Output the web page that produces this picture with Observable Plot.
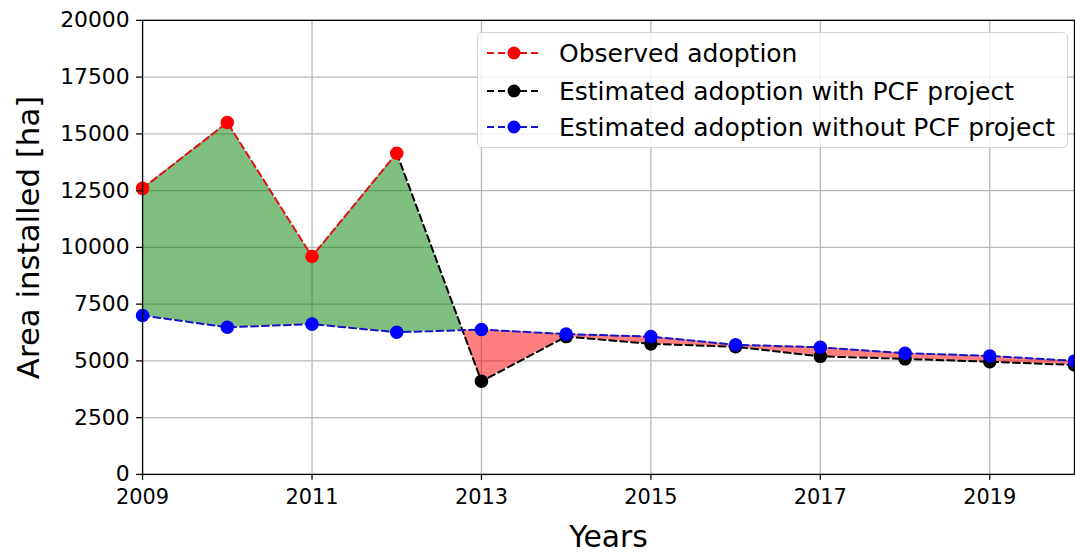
<!DOCTYPE html>
<html>
<head>
<meta charset="utf-8">
<script src="https://cdn.jsdelivr.net/npm/d3@7"></script>
<script src="https://cdn.jsdelivr.net/npm/@observablehq/plot@0.6"></script>
<style>
  html, body { margin: 0; padding: 0; background: #fff; overflow: hidden; }
  #wrap { position: relative; width: 1075px; height: 553px; overflow: hidden; }
  .legend {
    position: absolute; left: 477px; top: 32px; width: 589px; height: 114px;
    border: 1px solid #d4d4d4; border-radius: 5px; background: rgba(255,255,255,0.8);
    font-family: "DejaVu Sans", sans-serif; font-size: 25px; color: #000;
  }
  .legend .row { position: absolute; left: 0; height: 30px; display: flex; align-items: center; white-space: nowrap; }
  .legend .row svg { width: 81px; height: 30px; flex: none; }
</style>
</head>
<body>
<div id="wrap"></div>
<script>
// Years covered by the study
const years = [2009, 2010, 2011, 2012, 2013, 2014, 2015, 2016, 2017, 2018, 2019, 2020];
// Observed adoption (2009–2012), ha
const observedYears = [2009, 2010, 2011, 2012];
const observed = [12600, 15500, 9600, 14150];
// Estimated adoption with the PCF project (from 2012 on), ha
const withYears = [2012, 2013, 2014, 2015, 2016, 2017, 2018, 2019, 2020];
const withProject = [14150, 4100, 6070, 5750, 5620, 5200, 5090, 4960, 4820];
// Estimated adoption without the PCF project, ha
const withoutProject = [7000, 6480, 6620, 6260, 6380, 6180, 6070, 5710, 5600, 5340, 5220, 5000];
// Axis ticks
const xTicks = [2009, 2011, 2013, 2015, 2017, 2019];
const yTicks = [0, 2500, 5000, 7500, 10000, 12500, 15000, 17500, 20000];

const obsRows = observedYears.map((year, i) => ({year, value: observed[i]}));
const withRows = withYears.map((year, i) => ({year, value: withProject[i]}));
const withoutRows = years.map((year, i) => ({year, value: withoutProject[i]}));
// Actual adoption path: observed values, then the "with project" estimate
const actualByYear = new Map([...obsRows, ...withRows].map(d => [d.year, d.value]));
const bandRows = years.map((year, i) => ({year, lo: withoutProject[i], hi: actualByYear.get(year)}));

const dash = "7,4";
const fmt = d => String(d);

const fig = Plot.plot({
  width: 1082,
  height: 553,
  marginLeft: 143,
  marginRight: 1,
  marginTop: 20,
  marginBottom: 76,
  x: {domain: [2009, 2020]},
  y: {domain: [0, 20000]},
  style: {fontFamily: "DejaVu Sans, sans-serif", background: "white", overflow: "visible"},
  marks: [
    Plot.ruleX(xTicks, {stroke: "#b8b8b8", strokeWidth: 1.3}),
    Plot.ruleY(yTicks, {stroke: "#b8b8b8", strokeWidth: 1.3}),
    // gain (above the no-project baseline) and loss (below it)
    Plot.areaY(bandRows, {x: "year", y1: "lo", y2: "hi", fill: "green", fillOpacity: 0.5}),
    Plot.areaY(bandRows, {x: "year", y1: "lo", y2: "hi", fill: "red", fillOpacity: 0.5}),
    Plot.line(withRows, {x: "year", y: "value", stroke: "black", strokeWidth: 2, strokeDasharray: dash}),
    Plot.dot(withRows.slice(1), {x: "year", y: "value", r: 6.8, fill: "black"}),
    Plot.line(obsRows, {x: "year", y: "value", stroke: "#e01010", strokeWidth: 2, strokeDasharray: dash}),
    Plot.dot(obsRows, {x: "year", y: "value", r: 6.8, fill: "red"}),
    Plot.line(withoutRows, {x: "year", y: "value", stroke: "#1515c8", strokeWidth: 2, strokeDasharray: dash}),
    Plot.dot(withoutRows, {x: "year", y: "value", r: 6.8, fill: "blue"}),
    Plot.frame({stroke: "black", strokeWidth: 1.3}),
    Plot.axisX(xTicks, {tickFormat: fmt, tickSize: 6, tickPadding: 9, fontSize: 21, strokeWidth: 1.3, label: null}),
    Plot.axisY(yTicks, {tickFormat: fmt, tickSize: 6, tickPadding: 7, fontSize: 22, strokeWidth: 1.3, label: null}),
    Plot.text(["Years"], {frameAnchor: "bottom", lineAnchor: "middle", dy: 63, fontSize: 30, fill: "black"}),
    Plot.text(["Area installed [ha]"], {frameAnchor: "left", textAnchor: "middle", lineAnchor: "middle", rotate: -90, dx: -114, dy: -10, fontSize: 31, fill: "black"})
  ]
});

// Clip the two bands so green shows above the baseline and red below it
const sx = fig.scale("x"), sy = fig.scale("y");
const basePts = years.map((yr, i) => [sx.apply(yr), sy.apply(withoutProject[i])]);
function regionPath(edgeValue) {
  const e = sy.apply(edgeValue);
  const first = basePts[0][0], last = basePts[basePts.length - 1][0];
  return "M" + basePts.map(p => p.join(",")).join("L") + `L${last},${e}L${first},${e}Z`;
}
const ns = "http://www.w3.org/2000/svg";
const defs = document.createElementNS(ns, "defs");
[["gain-clip", 20000], ["loss-clip", 0]].forEach(([id, edge]) => {
  const cp = document.createElementNS(ns, "clipPath");
  cp.setAttribute("id", id);
  cp.setAttribute("clipPathUnits", "userSpaceOnUse");
  const p = document.createElementNS(ns, "path");
  p.setAttribute("d", regionPath(edge));
  cp.appendChild(p);
  defs.appendChild(cp);
});
fig.insertBefore(defs, fig.firstChild);
const areas = fig.querySelectorAll('g[aria-label="area"]');
areas[0].querySelectorAll("path").forEach(p => p.setAttribute("clip-path", "url(#gain-clip)"));
areas[1].querySelectorAll("path").forEach(p => p.setAttribute("clip-path", "url(#loss-clip)"));

const wrap = document.getElementById("wrap");
wrap.appendChild(fig);

// Legend
const legendItems = [
  {label: "Observed adoption", line: "#e01010", dot: "red", top: 5},
  {label: "Estimated adoption with PCF project", line: "black", dot: "black", top: 43},
  {label: "Estimated adoption without PCF project", line: "#1515c8", dot: "blue", top: 79}
];
const legend = document.createElement("div");
legend.className = "legend";
legendItems.forEach(item => {
  const row = document.createElement("div");
  row.className = "row";
  row.style.top = item.top + "px";
  row.innerHTML = `<svg viewBox="0 0 81 30"><line x1="9" y1="15" x2="61" y2="15" stroke="${item.line}" stroke-width="2" stroke-dasharray="${dash}"/><circle cx="36" cy="15" r="6.5" fill="${item.dot}"/></svg><span>${item.label}</span>`;
  legend.appendChild(row);
});
wrap.appendChild(legend);
</script>
</body>
</html>
